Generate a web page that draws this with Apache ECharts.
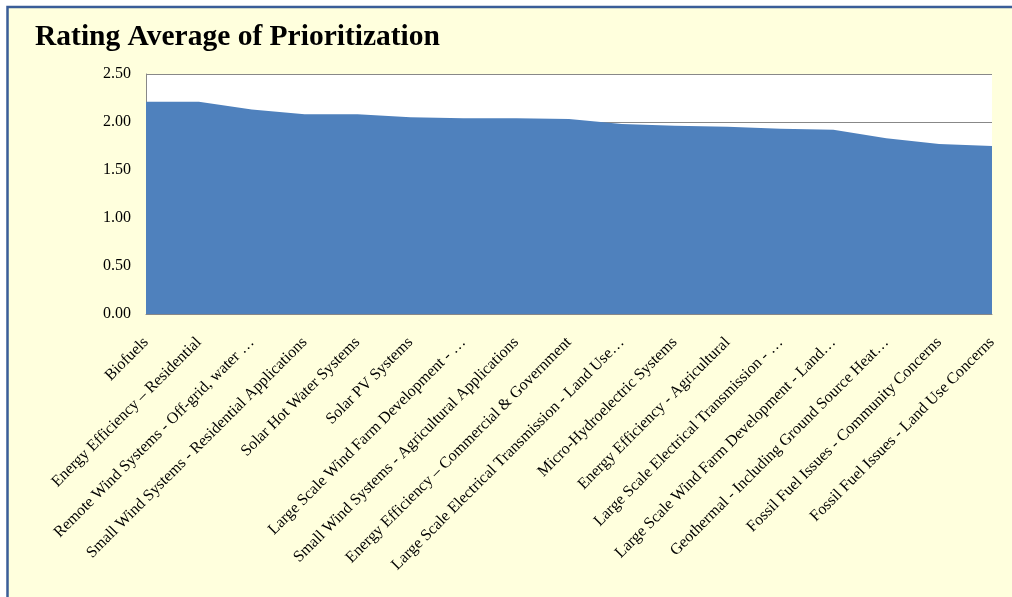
<!DOCTYPE html>
<html>
<head>
<meta charset="utf-8">
<script src="https://cdn.jsdelivr.net/npm/echarts@6/dist/echarts.min.js"></script>
<style>
html,body{margin:0;padding:0;background:#ffffff;}
#chart{width:1012px;height:597px;}
</style>
</head>
<body>
<div id="chart"></div>
<script>
const titleText = 'Rating Average of Prioritization';
const categories = [
  'Biofuels',
  'Energy Efficiency – Residential',
  'Remote Wind Systems - Off-grid, water …',
  'Small Wind Systems - Residential Applications',
  'Solar Hot Water Systems',
  'Solar PV Systems',
  'Large Scale Wind Farm Development - …',
  'Small Wind Systems - Agricultural Applications',
  'Energy Efficiency – Commercial & Government',
  'Large Scale Electrical Transmission - Land Use…',
  'Micro-Hydroelectric Systems',
  'Energy Efficiency - Agricultural',
  'Large Scale Electrical Transmission - …',
  'Large Scale Wind Farm Development - Land…',
  'Geothermal - Including Ground Source Heat…',
  'Fossil Fuel Issues - Community Concerns',
  'Fossil Fuel Issues - Land Use Concerns'
];
const ratingAverage = [2.21, 2.21, 2.13, 2.08, 2.08, 2.05, 2.04, 2.04, 2.03, 1.98, 1.96, 1.95, 1.93, 1.92, 1.83, 1.77, 1.75];
const yTicks = {min: 0, max: 2.5, interval: 0.5};

const chart = echarts.init(document.getElementById('chart'), null, {renderer: 'canvas'});
chart.setOption({
  backgroundColor: '#ffffff',
  animation: false,
  graphic: [{
    type: 'rect',
    z: -100,
    silent: true,
    shape: {x: 7.5, y: 7, width: 1030, height: 620},
    style: {fill: '#FFFFDD', stroke: '#3A5D98', lineWidth: 2.5}
  }],
  title: {
    text: titleText,
    left: 30,
    top: 17,
    textStyle: {fontFamily: 'Liberation Serif, DejaVu Serif, serif', fontWeight: 'bold', fontSize: 29.5, color: '#000000'}
  },
  grid: {
    left: 146, right: 20, top: 74, bottom: 283,
    show: true, backgroundColor: '#ffffff', borderWidth: 0
  },
  xAxis: {
    type: 'category',
    data: categories,
    boundaryGap: false,
    axisLine: {lineStyle: {color: '#888888', width: 1}},
    axisTick: {show: false},
    axisLabel: {
      rotate: 45,
      interval: 0,
      margin: 26,
      fontFamily: 'Liberation Serif, DejaVu Serif, serif',
      fontSize: 16,
      color: '#000000'
    }
  },
  yAxis: {
    type: 'value',
    min: yTicks.min, max: yTicks.max, interval: yTicks.interval,
    axisLine: {show: true, lineStyle: {color: '#888888', width: 1}},
    axisTick: {show: false},
    splitLine: {lineStyle: {color: '#888888', width: 1}},
    axisLabel: {
      formatter: v => v.toFixed(2),
      margin: 15,
      fontFamily: 'Liberation Serif, DejaVu Serif, serif',
      fontSize: 16,
      color: '#000000'
    }
  },
  series: [{
    type: 'line',
    data: ratingAverage,
    symbol: 'none',
    lineStyle: {width: 0},
    areaStyle: {color: '#4F81BD', opacity: 1}
  }]
});
</script>
</body>
</html>
